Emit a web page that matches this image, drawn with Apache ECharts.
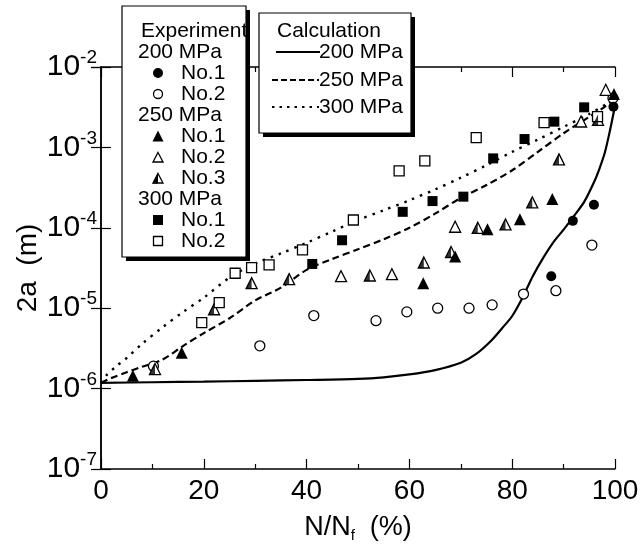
<!DOCTYPE html>
<html><head><meta charset="utf-8">
<script src="https://cdn.jsdelivr.net/npm/echarts@6/dist/echarts.min.js"></script>
<style>html,body{margin:0;padding:0;background:#fff}#c{width:640px;height:550px}</style>
</head><body><div id="c"></div>
<script>
// ---- data ----
const xTicks = [0, 20, 40, 60, 80, 100];
const yDecades = [1e-7, 1e-6, 1e-5, 1e-4, 1e-3, 1e-2];

const e200n1X = [87.6, 91.8, 95.9, 99.7];
const e200n1Y = [2.5e-5, 1.22e-4, 1.94e-4, 3.2e-3];
const e200n2X = [10.2, 30.9, 41.4, 53.5, 59.5, 65.5, 71.6, 76.1, 82.2, 88.5, 95.5, 99.6];
const e200n2Y = [1.9e-6, 3.4e-6, 8.1e-6, 7.0e-6, 9.0e-6, 1.0e-5, 1.0e-5, 1.1e-5, 1.5e-5, 1.65e-5, 6.1e-5, 4.1e-3];

const e250n1X = [6.2, 15.7, 62.7, 68.9, 75.2, 81.5, 87.8, 99.8];
const e250n1Y = [1.45e-6, 2.8e-6, 2.05e-5, 4.4e-5, 9.6e-5, 1.28e-4, 2.28e-4, 4.6e-3];
const e250n2X = [46.7, 56.6, 68.9, 93.4, 98.2];
const e250n2Y = [2.5e-5, 2.65e-5, 1.03e-4, 2.1e-3, 5.2e-3];
const e250n3X = [10.5, 22.0, 29.3, 36.6, 52.3, 62.8, 68.1, 73.3, 78.7, 83.9, 89.1, 96.7];
const e250n3Y = [1.75e-6, 9.7e-6, 2.05e-5, 2.3e-5, 2.55e-5, 3.7e-5, 5.0e-5, 1.0e-4, 1.1e-4, 2.07e-4, 7.1e-4, 2.2e-3];

const e300n1X = [41.1, 46.9, 58.7, 64.5, 70.5, 76.3, 82.4, 88.2, 94.0];
const e300n1Y = [3.55e-5, 7.0e-5, 1.58e-4, 2.15e-4, 2.44e-4, 7.3e-4, 1.27e-3, 2.09e-3, 3.15e-3];
const e300n2X = [19.6, 23.0, 26.1, 29.3, 32.7, 39.2, 49.1, 58.0, 63.0, 73.0, 86.2, 96.6];
const e300n2Y = [6.6e-6, 1.17e-5, 2.72e-5, 3.2e-5, 3.45e-5, 5.3e-5, 1.25e-4, 5.1e-4, 6.8e-4, 1.32e-3, 2.03e-3, 2.41e-3];

const c200X = [0, 10, 20, 30, 40, 50, 55, 60, 65, 70, 73, 76, 78, 80, 82, 84, 86, 88, 90, 92, 94, 96, 97, 98, 99, 100];
const c200Y = [1.18e-6, 1.2e-6, 1.22e-6, 1.25e-6, 1.28e-6, 1.32e-6, 1.38e-6, 1.5e-6, 1.7e-6, 2.1e-6, 2.7e-6, 4.0e-6, 5.6e-6, 8.0e-6, 1.35e-5, 2.5e-5, 4.2e-5, 6.6e-5, 9.5e-5, 1.4e-4, 2.1e-4, 3.8e-4, 5.5e-4, 8.5e-4, 1.6e-3, 3.3e-3];
const c250X = [0, 2, 5, 8, 12, 16, 20, 25, 30, 35, 40, 45, 50, 55, 60, 65, 70, 75, 80, 85, 90, 95, 98, 100];
const c250Y = [1.18e-6, 1.35e-6, 1.6e-6, 1.87e-6, 2.3e-6, 3.4e-6, 4.9e-6, 7.5e-6, 1.25e-5, 1.8e-5, 3.0e-5, 4.1e-5, 5.4e-5, 7.2e-5, 1.0e-4, 1.5e-4, 2.35e-4, 3.4e-4, 5.2e-4, 8.8e-4, 1.5e-3, 2.4e-3, 3.2e-3, 4.1e-3];
const c300X = [0, 1, 3, 5, 8, 12, 16, 20, 25, 30, 35, 40, 45, 50, 55, 60, 65, 70, 75, 80, 85, 90, 95, 100];
const c300Y = [1.18e-6, 1.45e-6, 1.9e-6, 2.4e-6, 3.6e-6, 5.8e-6, 9.0e-6, 1.35e-5, 2.4e-5, 3.6e-5, 4.8e-5, 6.5e-5, 9.0e-5, 1.25e-4, 1.65e-4, 2.2e-4, 3.0e-4, 4.2e-4, 6.0e-4, 8.8e-4, 1.25e-3, 1.8e-3, 2.6e-3, 4.0e-3];

// ---- helpers ----
const FONT = 'Liberation Sans';
const zip = (xs, ys) => xs.map((x, i) => [x, ys[i]]);
const MS = 10;

const chart = echarts.init(document.getElementById('c'));

function scatter(name, xs, ys, symbol, filled, size) {
  return {
    type: 'scatter', name, data: zip(xs, ys), symbol, symbolSize: size || MS, z: 5,
    itemStyle: { color: filled ? '#000' : '#fff', borderColor: '#000', borderWidth: filled ? 0 : 1.3, opacity: 1 }
  };
}
function line(name, xs, ys, type, w) {
  return {
    type: 'line', name, data: zip(xs, ys), showSymbol: false, smooth: 0.3, z: 3,
    lineStyle: { color: '#000', width: w || 2, type }
  };
}

const axisCommon = {
  axisLine: { show: true, lineStyle: { color: '#000', width: 1.5 } },
  splitLine: { show: false }
};

// legend graphics
const G = [];
function box(x, y, w, h) {
  G.push({ type: 'rect', shape: { x: x + 4, y: y + 4, width: w, height: h }, style: { fill: '#000' }, z: 100 });
  G.push({ type: 'rect', shape: { x, y, width: w, height: h }, style: { fill: '#fff', stroke: '#000', lineWidth: 1.2 }, z: 101 });
}
function txt(x, y, t) {
  G.push({ type: 'text', x, y, style: { text: t, font: '21px "' + FONT + '"', fill: '#000', textVerticalAlign: 'middle', verticalAlign: 'middle' }, z: 102 });
}
function sym(kind, cx, cy) {
  const s = { stroke: '#000', lineWidth: 1.3 };
  const r = 5, t = 5.5;
  if (kind === 'fc') G.push({ type: 'circle', shape: { cx, cy, r }, style: { fill: '#000' }, z: 102 });
  if (kind === 'oc') G.push({ type: 'circle', shape: { cx, cy, r: r - 0.5 }, style: Object.assign({ fill: '#fff' }, s), z: 102 });
  if (kind === 'ft') G.push({ type: 'polygon', shape: { points: [[cx, cy - t], [cx + t, cy + t], [cx - t, cy + t]] }, style: { fill: '#000' }, z: 102 });
  if (kind === 'ot' || kind === 'ht') G.push({ type: 'polygon', shape: { points: [[cx, cy - t + 1], [cx + t - 0.5, cy + t - 0.5], [cx - t + 0.5, cy + t - 0.5]] }, style: Object.assign({ fill: '#fff' }, s), z: 102 });
  if (kind === 'ht') G.push({ type: 'polygon', shape: { points: [[cx, cy - t], [cx, cy + t], [cx - t, cy + t]] }, style: { fill: '#000' }, z: 103 });
  if (kind === 'fs') G.push({ type: 'rect', shape: { x: cx - 5, y: cy - 5, width: 10, height: 10 }, style: { fill: '#000' }, z: 102 });
  if (kind === 'os') G.push({ type: 'rect', shape: { x: cx - 4.5, y: cy - 4.5, width: 9, height: 9 }, style: Object.assign({ fill: '#fff' }, s), z: 102 });
}
function seg(x1, x2, y, dash) {
  G.push({ type: 'line', shape: { x1, y1: y, x2, y2: y }, style: { stroke: '#000', lineWidth: 2, lineDash: dash }, z: 102 });
}

box(122, 6, 124, 251);
txt(141, 31, 'Experiment');
txt(138, 52, '200 MPa');
sym('fc', 158, 73); txt(181, 73, 'No.1');
sym('oc', 158, 94); txt(181, 94, 'No.2');
txt(138, 115, '250 MPa');
sym('ft', 158, 136); txt(181, 136, 'No.1');
sym('ot', 158, 157); txt(181, 157, 'No.2');
sym('ht', 158, 178); txt(181, 178, 'No.3');
txt(138, 199, '300 MPa');
sym('fs', 158, 220); txt(181, 220, 'No.1');
sym('os', 158, 241); txt(181, 241, 'No.2');

box(259, 13, 152, 120);
txt(277, 31, 'Calculation');
seg(276, 320, 52, null); txt(319, 52, '200 MPa');
seg(272, 319, 80, [6, 3]); txt(319, 80, '250 MPa');
seg(272, 319, 107, [2.5, 5]); txt(319, 107, '300 MPa');

const option = {
  animation: false,
  grid: { left: 101, right: 25, top: 67, bottom: 81, containLabel: false, outerBoundsMode: 'none' },
  xAxis: [
    Object.assign({}, axisCommon, {
      type: 'value', position: 'bottom', min: 0, max: 100, interval: 20,
      axisTick: { inside: true, length: 10, lineStyle: { color: '#000', width: 1.2 } },
      minorTick: { show: true, splitNumber: 2, length: 5, lineStyle: { color: '#000', width: 1.2 } },
      axisLabel: { fontSize: 28, color: '#000', fontFamily: FONT, margin: 8 },
      name: '{n|N/N}{f|f}{n|  (%)}', nameLocation: 'middle', nameGap: 43,
      nameTextStyle: { rich: { n: { fontSize: 27, fontFamily: FONT, color: '#000' }, f: { fontSize: 15, fontFamily: FONT, color: '#000', padding: [16, 0, 0, 0] } } }
    }),
    Object.assign({}, axisCommon, {
      type: 'value', position: 'top', min: 0, max: 100, interval: 20,
      axisTick: { inside: true, length: 10, lineStyle: { color: '#000', width: 1.2 } },
      minorTick: { show: true, splitNumber: 2, length: 5, lineStyle: { color: '#000', width: 1.2 } },
      axisLabel: { show: false }
    })
  ],
  yAxis: [
    Object.assign({}, axisCommon, {
      type: 'log', logBase: 10, position: 'left', min: yDecades[0], max: yDecades[yDecades.length - 1],
      axisTick: { inside: true, length: 10, lineStyle: { color: '#000', width: 1.2 } },
      axisLabel: {
        margin: 4, color: '#000',
        formatter: v => '{b|10}{s|' + Math.round(Math.log10(v)) + '}',
        rich: { b: { fontSize: 30, fontFamily: FONT, color: '#000' }, s: { fontSize: 19, fontFamily: FONT, color: '#000', padding: [0, 0, 18, 0] } }
      },
      name: '2a  (m)', nameLocation: 'middle', nameGap: 59, nameRotate: 90, nameMoveOverlap: false,
      nameTextStyle: { fontSize: 28, fontFamily: FONT, color: '#000' }
    }),
    Object.assign({}, axisCommon, {
      type: 'log', logBase: 10, position: 'right', min: yDecades[0], max: yDecades[yDecades.length - 1],
      axisTick: { inside: true, length: 10, lineStyle: { color: '#000', width: 1.2 } },
      axisLabel: { show: false }
    })
  ],
  series: [
    line('c200', c200X, c200Y, 'solid', 2.2),
    line('c250', c250X, c250Y, [7, 4], 2.2),
    line('c300', c300X, c300Y, [2.5, 6], 2.4),
    scatter('200 No.2', e200n2X, e200n2Y, 'circle', false, 10),
    scatter('250 No.2', e250n2X, e250n2Y, 'triangle', false, 11),
    scatter('250 No.3', e250n3X, e250n3Y, 'triangle', false, 11),
    {
      type: 'scatter', name: '250 No.3 half', data: zip(e250n3X, e250n3Y), z: 6,
      symbol: 'path://M1,0 L1,2 L0,2 Z', symbolSize: [5.5, 11], symbolOffset: [-2.75, 0],
      itemStyle: { color: '#000' }
    },
    scatter('300 No.2', e300n2X, e300n2Y, 'rect', false, 10),
    scatter('200 No.1', e200n1X, e200n1Y, 'circle', true, 10),
    scatter('250 No.1', e250n1X, e250n1Y, 'triangle', true, 12),
    scatter('300 No.1', e300n1X, e300n1Y, 'rect', true, 10)
  ],
  graphic: G
};
chart.setOption(option);
</script>
</body></html>
